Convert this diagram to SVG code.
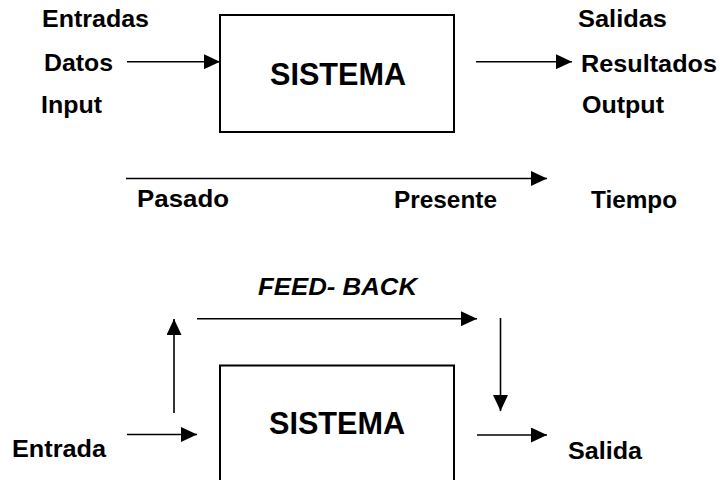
<svg xmlns="http://www.w3.org/2000/svg" width="720" height="480" viewBox="0 0 720 480">
<style>
  text { font-family: "Liberation Sans", Arial, sans-serif; font-weight: bold; font-size: 24px; fill: #000; }
  .big { font-size: 31px; }
  .it { font-style: italic; }
  .box { fill: #fff; stroke: #000; stroke-width: 2; }
  .conn line { stroke: #000; stroke-width: 1.6; marker-end: url(#ah); }
</style>
<defs>
  <marker id="ah" markerUnits="userSpaceOnUse" markerWidth="16" markerHeight="15" refX="16" refY="7.5" orient="auto">
    <path d="M0,0 L16,7.5 L0,15 z" fill="#000"/>
  </marker>
</defs>
<rect width="720" height="480" fill="#fff"/>

<g id="sistema-top">
  <rect class="box" x="220" y="15" width="234" height="117"/>
  <text class="big" x="270" y="85" textLength="136" lengthAdjust="spacingAndGlyphs">SISTEMA</text>
</g>
<g id="entradas">
  <text x="42" y="27" textLength="107" lengthAdjust="spacingAndGlyphs">Entradas</text>
  <text x="44" y="71" textLength="69" lengthAdjust="spacingAndGlyphs">Datos</text>
  <text x="41" y="113" textLength="61" lengthAdjust="spacingAndGlyphs">Input</text>
</g>
<g id="salidas">
  <text x="578" y="27" textLength="89" lengthAdjust="spacingAndGlyphs">Salidas</text>
  <text x="581" y="72" textLength="136" lengthAdjust="spacingAndGlyphs">Resultados</text>
  <text x="582" y="113" textLength="82" lengthAdjust="spacingAndGlyphs">Output</text>
</g>
<g id="tiempo">
  <text x="137" y="207" textLength="92" lengthAdjust="spacingAndGlyphs">Pasado</text>
  <text x="394" y="207.5" textLength="103" lengthAdjust="spacingAndGlyphs">Presente</text>
  <text x="591" y="207.5" textLength="86" lengthAdjust="spacingAndGlyphs">Tiempo</text>
</g>
<g id="feedback-label">
  <text class="it" x="258" y="295" textLength="159" lengthAdjust="spacingAndGlyphs">FEED- BACK</text>
</g>
<g id="sistema-bottom">
  <rect class="box" x="220" y="365.5" width="234" height="130"/>
  <text class="big" x="269" y="434" textLength="136" lengthAdjust="spacingAndGlyphs">SISTEMA</text>
</g>
<g id="entrada">
  <text x="12" y="457" textLength="94" lengthAdjust="spacingAndGlyphs">Entrada</text>
</g>
<g id="salida">
  <text x="568" y="459" textLength="74" lengthAdjust="spacingAndGlyphs">Salida</text>
</g>

<g id="connectors" class="conn">
  <line x1="127" y1="61.7" x2="220" y2="61.7"/>
  <line x1="476" y1="61.7" x2="572" y2="61.7"/>
  <line x1="126" y1="178.5" x2="547" y2="178.5"/>
  <line x1="174" y1="413" x2="174" y2="319"/>
  <line x1="197" y1="318.7" x2="477" y2="318.7"/>
  <line x1="500.5" y1="318" x2="500.5" y2="411"/>
  <line x1="127" y1="434.5" x2="197" y2="434.5"/>
  <line x1="477" y1="435" x2="547" y2="435"/>
</g>
</svg>
